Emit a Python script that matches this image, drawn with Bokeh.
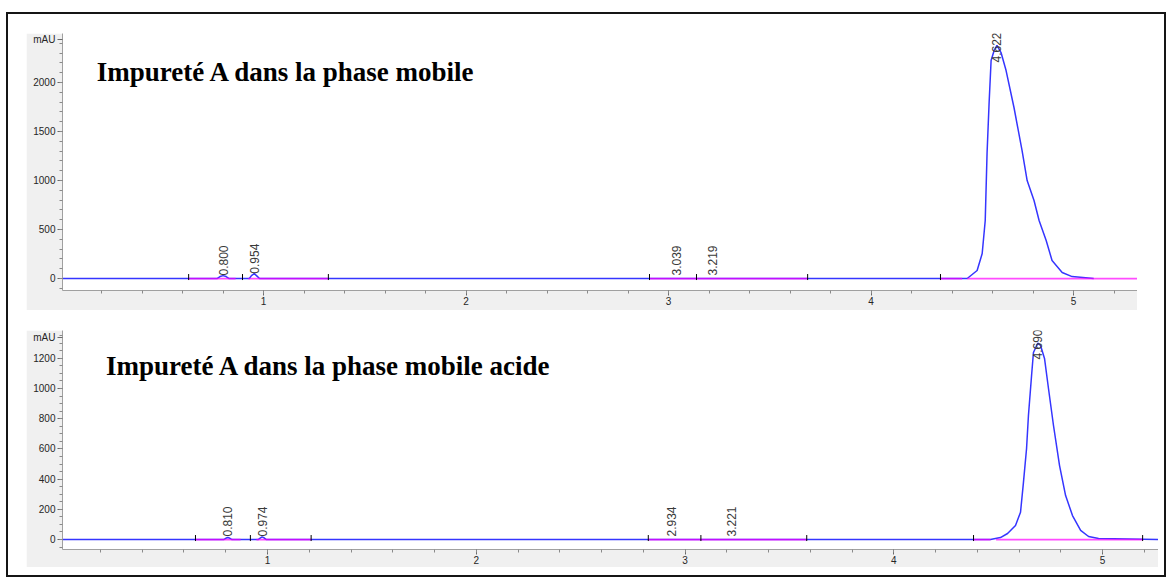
import numpy as np
from bokeh.plotting import figure
from bokeh.models import Range1d, FixedTicker, Label
from bokeh.layouts import column
from bokeh.core.properties import value
from bokeh.embed import file_html
from bokeh.resources import INLINE

# ---------------- Chromatogram 1 : impurity A in the mobile phase ----------------
title_top = "Impureté A dans la phase mobile"
time_top = [0.0, 0.77, 0.785, 0.800, 0.815, 0.83, 0.93, 0.94, 0.954, 0.965, 0.98,
            4.475, 4.524, 4.549, 4.564, 4.573, 4.583, 4.593, 4.608, 4.622, 4.642,
            4.667, 4.706, 4.746, 4.771, 4.805, 4.830, 4.865, 4.894, 4.944, 4.993, 5.10]
mau_top = [0, 0, 20, 30, 20, 0, 0, 30, 50, 30, 0,
           0, 82, 255, 592, 1276, 1786, 2224, 2327, 2378, 2306,
           2122, 1745, 1306, 1000, 796, 592, 388, 184, 61, 20, 0]
peak_rt_top = [0.800, 0.954, 3.039, 3.219, 4.622]
peak_apex_top = [30, 50, 0, 0, 2378]
base_from_top = [0.63, 0.925, 2.906, 4.343, 4.475]
base_to_top = [0.862, 1.32, 3.687, 4.45, 5.316]
events_top = [0.63, 0.896, 1.32, 2.906, 3.138, 3.687, 4.343]
yticks_top = [0, 500, 1000, 1500, 2000]
yminor_top = list(range(-100, 2500, 100))
unit_tick_top = 2440

# ---------------- Chromatogram 2 : impurity A in the acidic mobile phase ----------------
title_bot = "Impureté A dans la phase mobile acide"
time_bot = [0.0, 0.79, 0.80, 0.810, 0.82, 0.83, 0.955, 0.965, 0.974, 0.985, 0.995,
            4.463, 4.511, 4.545, 4.583, 4.607, 4.621, 4.636, 4.645, 4.660, 4.669,
            4.690, 4.703, 4.722, 4.741, 4.765, 4.794, 4.823, 4.856, 4.895, 4.933,
            4.981, 5.27]
mau_bot = [0, 0, 8, 13, 8, 0, 0, 10, 18, 10, 0,
           0, 13, 40, 93, 180, 377, 603, 821, 1086, 1238,
           1300, 1285, 1199, 1000, 755, 490, 291, 159, 60, 20,
           7, 0]
peak_rt_bot = [0.810, 0.974, 2.934, 3.221, 4.690]
peak_apex_bot = [13, 18, 0, 0, 1300]
base_from_bot = [0.655, 0.947, 2.824, 4.382, 4.49]
base_to_bot = [0.871, 1.209, 3.583, 4.463, 5.192]
events_bot = [0.655, 0.918, 1.209, 2.824, 3.076, 3.583, 4.382, 5.192]
yticks_bot = [0, 200, 400, 600, 800, 1000, 1200]
yminor_bot = list(range(-50, 1400, 50))
unit_tick_bot = 1340

xticks = [1, 2, 3, 4, 5]
xminor = [round(0.2 * k, 1) for k in range(1, 27)]

TRACE = "#3535ff"
BASE = "#ff00ff"
PANEL = "#f0f0f0"
SANS = "Liberation Sans"


def chromatogram(width, height, border_bottom, xr, yr, yticks, yminor, unit_tick,
                 t, mau, rt, apex, b_from, b_to, events, title, title_xy):
    p = figure(width=width, height=height, output_backend="svg", toolbar_location=None,
               x_range=Range1d(*xr), y_range=Range1d(*yr),
               min_border_left=36, min_border_right=0, min_border_top=0,
               min_border_bottom=border_bottom)
    p.background_fill_color = "white"
    p.border_fill_color = PANEL
    p.outline_line_color = None
    p.xgrid.grid_line_color = None
    p.ygrid.grid_line_color = None

    frame_h = height - border_bottom
    upp = (yr[1] - yr[0]) / frame_h  # data units per pixel

    # detector trace
    p.line(t, mau, line_color=TRACE, line_width=1.5)

    # integration baselines
    for a, b in zip(b_from, b_to):
        p.line([a, b], [0, 0], line_color=BASE, line_width=1.8, line_alpha=0.7)

    # integration event marks
    p.segment(x0=events, y0=[-1.5 * upp] * len(events), x1=events,
              y1=[4.5 * upp] * len(events), line_color="black", line_width=1)

    # retention-time labels
    lab_y = [min(max(h, 3 * upp), yr[1] - 29 * upp) for h in apex]
    p.text(x=rt, y=lab_y, text=["%.3f" % r for r in rt], angle=np.pi / 2,
           text_align="left", text_baseline="middle",
           text_font=value(SANS), text_font_size="12px", text_color="#3a3a3a")

    p.add_layout(Label(x=title_xy[0], y=title_xy[1], text=title,
                       text_font="Liberation Serif", text_font_style="bold",
                       text_font_size="27px", text_color="black",
                       text_baseline="alphabetic"))

    for ax in (p.xaxis[0], p.yaxis[0]):
        ax.axis_line_color = "#a0a0a0"
        ax.major_tick_line_color = "#6a6a6a"
        ax.minor_tick_line_color = "#8a8a8a"
        ax.major_tick_in = 0
        ax.minor_tick_in = 0
        ax.major_tick_out = 5
        ax.minor_tick_out = 3
        ax.major_label_text_font = SANS
        ax.major_label_text_font_size = "10px"
        ax.major_label_text_color = "#262626"
        ax.major_label_standoff = 2

    p.xaxis.ticker = FixedTicker(ticks=xticks, minor_ticks=xminor)
    p.xaxis.major_label_standoff = 1
    p.yaxis.ticker = FixedTicker(ticks=yticks + [unit_tick], minor_ticks=yminor)
    p.yaxis.major_label_overrides = {unit_tick: "mAU"}
    return p


p1 = chromatogram(1111, 277, 20, (0.007, 5.316), (-122, 2500), yticks_top, yminor_top,
                  unit_tick_top, time_top, mau_top, peak_rt_top, peak_apex_top,
                  base_from_top, base_to_top, events_top, title_top, (0.176, 2111))
p2 = chromatogram(1132, 237, 18, (0.018, 5.268), (-66, 1384), yticks_bot, yminor_bot,
                  unit_tick_bot, time_bot, mau_bot, peak_rt_bot, peak_apex_bot,
                  base_from_bot, base_to_bot, events_bot, title_bot, (0.226, 1152))

p1.margin = (19, 0, 0, 18)
p2.margin = (20, 6, 8, 18)

root = column(p1, p2, margin=(12, 0, 0, 6),
              styles={"border": "2px solid #151515"})

with open("out.html", "w") as f:
    f.write(file_html(root, INLINE, title="Chromatogrammes"))
